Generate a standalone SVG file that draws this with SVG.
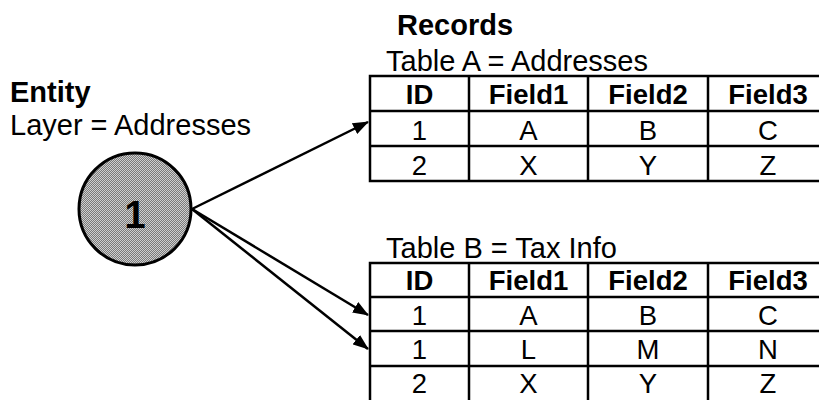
<svg xmlns="http://www.w3.org/2000/svg" width="819" height="400" viewBox="0 0 819 400">
<style>
.lbl{font-family:"Liberation Sans",Arial,sans-serif;font-size:29px;fill:#000}
.b{font-weight:bold}
.cell{font-family:"Liberation Sans",Arial,sans-serif;font-size:27.5px;fill:#000;text-anchor:middle}
.grid{stroke:#000;stroke-width:2.5;fill:none}
.conn{stroke:#000;stroke-width:2.5;fill:none}
</style>
<defs>
<pattern id="dots" width="2" height="2" patternUnits="userSpaceOnUse">
<rect width="2" height="2" fill="#7a7a7a"/>
<rect width="1" height="1" fill="#cfcfcf"/>
<rect x="1" y="1" width="1" height="1" fill="#cfcfcf"/>
</pattern>
<marker id="arr" markerUnits="userSpaceOnUse" markerWidth="16" markerHeight="12" refX="15" refY="6" orient="auto">
<path d="M0,0 L16,6 L0,12 Z" fill="#000"/>
</marker>
</defs>
<rect width="819" height="400" fill="#fff"/>

<g id="entity">
<text class="lbl b" x="10" y="102">Entity</text>
<text class="lbl" x="10" y="135">Layer = Addresses</text>
<circle cx="135" cy="209" r="56" fill="url(#dots)" stroke="#000" stroke-width="3"/>
<text x="135" y="228" font-family="Liberation Sans,Arial,sans-serif" font-size="38" font-weight="bold" text-anchor="middle">1</text>
</g>

<g id="connectors">
<line class="conn" x1="192" y1="209" x2="368" y2="122" marker-end="url(#arr)"/>
<line class="conn" x1="192" y1="209" x2="368" y2="315" marker-end="url(#arr)"/>
<line class="conn" x1="192" y1="209" x2="368" y2="349" marker-end="url(#arr)"/>
</g>

<g id="tableA">
<text class="lbl b" x="397" y="35" font-size="26">Records</text>
<text class="lbl" x="386" y="71">Table A = Addresses</text>
<rect class="grid" x="370" y="76" width="460" height="105"/>
<line class="grid" x1="370" y1="111" x2="830" y2="111"/>
<line class="grid" x1="370" y1="146" x2="830" y2="146"/>
<line class="grid" x1="469" y1="76" x2="469" y2="181"/>
<line class="grid" x1="588" y1="76" x2="588" y2="181"/>
<line class="grid" x1="708" y1="76" x2="708" y2="181"/>
<text class="cell b" x="419.5" y="104">ID</text>
<text class="cell b" x="528.5" y="104">Field1</text>
<text class="cell b" x="648" y="104">Field2</text>
<text class="cell b" x="768" y="104">Field3</text>
<text class="cell" x="419.5" y="140">1</text>
<text class="cell" x="528.5" y="140">A</text>
<text class="cell" x="648" y="140">B</text>
<text class="cell" x="768" y="140">C</text>
<text class="cell" x="419.5" y="175">2</text>
<text class="cell" x="528.5" y="175">X</text>
<text class="cell" x="648" y="175">Y</text>
<text class="cell" x="768" y="175">Z</text>
</g>

<g id="tableB">
<text class="lbl" x="386" y="258">Table B = Tax Info</text>
<rect class="grid" x="370" y="263" width="460" height="140"/>
<line class="grid" x1="370" y1="297" x2="830" y2="297"/>
<line class="grid" x1="370" y1="331" x2="830" y2="331"/>
<line class="grid" x1="370" y1="366" x2="830" y2="366"/>
<line class="grid" x1="469" y1="263" x2="469" y2="403"/>
<line class="grid" x1="588" y1="263" x2="588" y2="403"/>
<line class="grid" x1="708" y1="263" x2="708" y2="403"/>
<text class="cell b" x="419.5" y="290">ID</text>
<text class="cell b" x="528.5" y="290">Field1</text>
<text class="cell b" x="648" y="290">Field2</text>
<text class="cell b" x="768" y="290">Field3</text>
<text class="cell" x="419.5" y="325">1</text>
<text class="cell" x="528.5" y="325">A</text>
<text class="cell" x="648" y="325">B</text>
<text class="cell" x="768" y="325">C</text>
<text class="cell" x="419.5" y="359">1</text>
<text class="cell" x="528.5" y="359">L</text>
<text class="cell" x="648" y="359">M</text>
<text class="cell" x="768" y="359">N</text>
<text class="cell" x="419.5" y="393">2</text>
<text class="cell" x="528.5" y="393">X</text>
<text class="cell" x="648" y="393">Y</text>
<text class="cell" x="768" y="393">Z</text>
</g>
</svg>
